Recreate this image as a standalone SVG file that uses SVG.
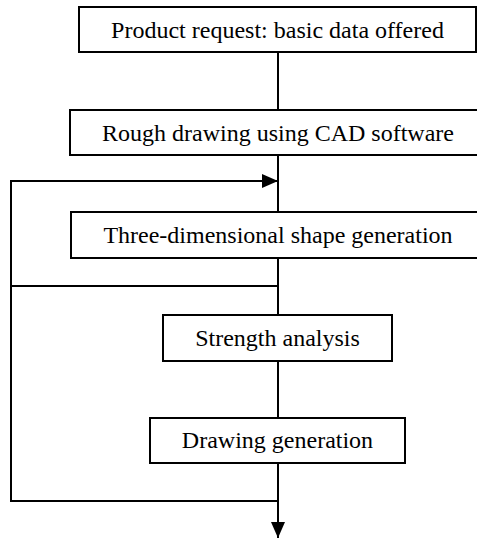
<svg xmlns="http://www.w3.org/2000/svg" width="477" height="539" viewBox="0 0 477 539">
<style>
.box{fill:#fff;stroke:#000;stroke-width:2}
.lbl{font-family:"Liberation Serif","Times New Roman",serif;font-size:24px;fill:#000;text-anchor:middle}
.ln{fill:none;stroke:#000;stroke-width:2}
</style>
<defs>
<marker id="ah" viewBox="0 0 16 14" refX="16" refY="7" markerWidth="16" markerHeight="14" markerUnits="userSpaceOnUse" orient="auto">
<path d="M0,0 L16,7 L0,14 Z" fill="#000"/>
</marker>
</defs>
<rect width="477" height="539" fill="#fff"/>
<g id="connectors">
<line class="ln" x1="278" y1="52" x2="278" y2="110"/>
<line class="ln" x1="278" y1="155" x2="278" y2="212"/>
<line class="ln" x1="278" y1="258" x2="278" y2="315"/>
<line class="ln" x1="278" y1="361" x2="278" y2="418"/>
<line class="ln" x1="278" y1="463" x2="278" y2="538" marker-end="url(#ah)"/>
<polyline class="ln" points="278,501 11,501 11,181 278,181" marker-end="url(#ah)"/>
<line class="ln" x1="11" y1="286" x2="278" y2="286"/>
</g>
<g id="n1">
<rect class="box" x="79" y="7" width="397" height="45"/>
<text class="lbl" x="277.5" y="37.5">Product request: basic data offered</text>
</g>
<g id="n2">
<rect class="box" x="70" y="110" width="412" height="45"/>
<text class="lbl" x="278" y="140.5">Rough drawing using CAD software</text>
</g>
<g id="n3">
<rect class="box" x="71" y="212" width="411" height="46"/>
<text class="lbl" x="278" y="243">Three-dimensional shape generation</text>
</g>
<g id="n4">
<rect class="box" x="163" y="315" width="229" height="46"/>
<text class="lbl" x="277.5" y="346">Strength analysis</text>
</g>
<g id="n5">
<rect class="box" x="150" y="418" width="255" height="45"/>
<text class="lbl" x="277.5" y="448">Drawing generation</text>
</g>
</svg>
